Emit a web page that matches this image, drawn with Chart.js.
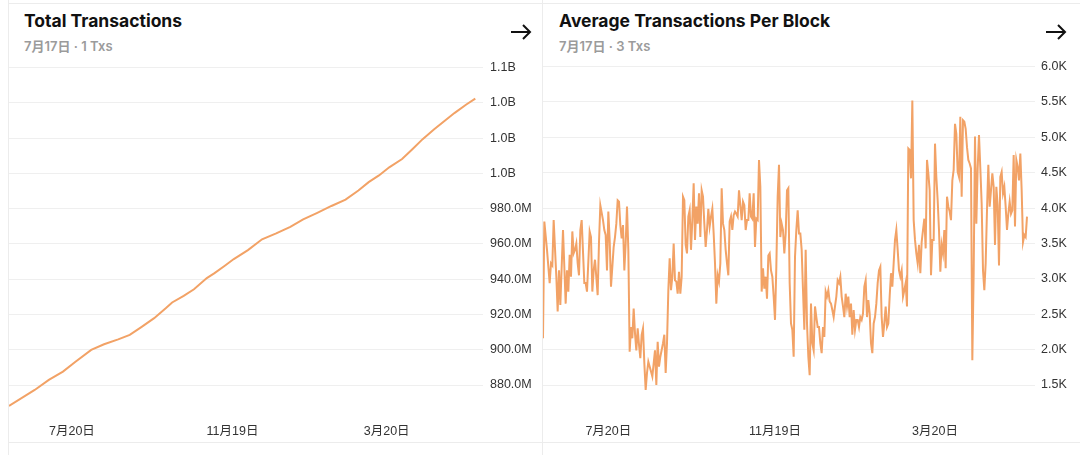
<!DOCTYPE html>
<html lang="zh">
<head>
<meta charset="UTF-8">
<title>Transactions</title>
<script src="https://cdn.jsdelivr.net/npm/chart.js"></script>
<style>
  body { margin: 0; width: 1080px; height: 455px; background: #fff; overflow: hidden; position: relative;
         font-family: Inter, 'Noto Sans CJK SC', sans-serif; }
  .vline { position: absolute; top: 0; bottom: 0; width: 1px; background: #ececec; }
  .hline { position: absolute; left: 8px; right: 0; height: 1px; background: #ececec; }
  .title { position: absolute; top: 11px; font-size: 17.5px; line-height: 20px; font-weight: 700; color: #111; white-space: nowrap; }
  .sub { position: absolute; top: 38px; font-size: 13px; line-height: 16px; font-weight: 600; color: #9b9b9b; white-space: nowrap; }
  .arrow { position: absolute; top: 23px; }
  canvas { position: absolute; top: 53px; }
</style>
</head>
<body>
  <div class="vline" style="left:8px"></div>
  <div class="vline" style="left:542px"></div>
  <div class="hline" style="top:3px"></div>
  <div class="hline" style="top:442px"></div>

  <div class="title" style="left:24px">Total Transactions</div>
  <div class="sub" style="left:24px">7月17日 · 1 Txs</div>
  <svg class="arrow" style="left:510px" width="22" height="18" viewBox="0 0 22 18">
    <path d="M1 9 H20 M13 2 L20 9 L13 16" fill="none" stroke="#111" stroke-width="2"/>
  </svg>

  <div class="title" style="left:559px">Average Transactions Per Block</div>
  <div class="sub" style="left:559px">7月17日 · 3 Txs</div>
  <svg class="arrow" style="left:1045px" width="22" height="18" viewBox="0 0 22 18">
    <path d="M1 9 H20 M13 2 L20 9 L13 16" fill="none" stroke="#111" stroke-width="2"/>
  </svg>

  <canvas id="totalChart" width="531" height="398" style="left:9px"></canvas>
  <canvas id="avgChart" width="537" height="398" style="left:543px"></canvas>

<script>
// x positions are day numbers counted from the first day shown
const tickDays = [49, 174, 294];
const tickLabels = ['7月20日', '11月19日', '3月20日'];

// total transactions, in millions
const totalDays = [0, 20, 31, 42, 52, 64, 74, 85, 94, 103, 113, 122, 127, 136, 144, 154, 160, 168, 175, 186,
  197, 208, 219, 229, 240, 251, 262, 272, 280, 288, 296, 306, 314, 322, 331, 339, 347, 356, 363];
const totalTxs = [868.1, 877.2, 882.9, 887.6, 893.3, 899.9, 903.1, 905.9, 908.4, 912.8, 917.9, 923.5, 926.8, 930.5,
  934.3, 940.6, 943.4, 947.6, 951.4, 956.5, 962.6, 966.0, 969.7, 973.9, 977.6, 981.5, 985.1, 990.3, 995.0, 998.8,
  1003.4, 1008.1, 1013.7, 1019.4, 1025.0, 1029.7, 1034.3, 1039.0, 1042.4];
const totalTicks = [880, 900, 920, 940, 960, 980, 1000, 1020, 1040, 1060];

// average transactions per block
const avgDays = [0, 1, 3, 5, 6, 7, 8, 10, 11, 12, 13, 15, 17, 18, 19, 20, 21, 22, 23, 24,
  25, 26, 27, 28, 29, 31, 32, 33, 35, 36, 37, 38, 39, 41, 42, 43, 45, 46, 47, 48,
  49, 50, 51, 53, 54, 55, 56, 57, 58, 59, 60, 61, 62, 63, 64, 65, 66, 67, 68, 69,
  70, 71, 72, 73, 74, 75, 76, 77, 78, 79, 81, 82, 84, 85, 86, 87, 88, 90, 91, 92,
  93, 94, 95, 96, 97, 98, 99, 100, 101, 102, 103, 104, 105, 106, 107, 108, 109, 110, 111, 112,
  113, 114, 115, 116, 117, 118, 119, 120, 121, 122, 123, 124, 125, 126, 127, 128, 129, 130, 131, 132,
  133, 134, 135, 136, 137, 138, 139, 140, 141, 142, 143, 144, 145, 146, 147, 148, 149, 150, 151, 152,
  153, 154, 155, 156, 157, 158, 159, 160, 161, 162, 163, 164, 165, 166, 167, 168, 169, 170, 171, 172,
  173, 174, 175, 176, 177, 178, 179, 180, 181, 182, 183, 184, 185, 186, 187, 188, 189, 190, 191, 192,
  193, 194, 195, 196, 197, 198, 199, 200, 201, 202, 203, 204, 205, 206, 207, 208, 209, 210, 211, 212,
  213, 214, 215, 216, 217, 218, 219, 220, 221, 222, 223, 224, 225, 226, 227, 228, 229, 230, 231, 232,
  233, 234, 235, 236, 237, 238, 239, 240, 241, 242, 243, 244, 245, 246, 247, 248, 249, 250, 251, 252,
  253, 254, 255, 256, 257, 258, 259, 260, 261, 262, 263, 264, 265, 266, 267, 268, 269, 270, 271, 272,
  273, 274, 275, 276, 277, 278, 279, 280, 281, 282, 283, 284, 285, 286, 287, 288, 289, 290, 291, 292,
  293, 294, 295, 296, 297, 298, 299, 300, 301, 302, 303, 304, 305, 306, 307, 308, 309, 310, 311, 312,
  313, 314, 315, 316, 317, 318, 319, 320, 321, 322, 323, 324, 325, 326, 327, 328, 329, 330, 331, 332,
  333, 334, 335, 336, 337, 338, 339, 340, 341, 342, 343, 344, 345, 346, 347, 348, 349, 350, 351, 352,
  353, 354, 355, 356, 357, 358, 359, 360, 361, 362, 363];
const avgTxs = [2160, 3810, 3410, 2940, 3220, 3190, 3830, 3030, 2540, 3120,
  2630, 3690, 2650, 3120, 2820, 3340, 3030, 3670, 3360, 3410,
  3500, 3220, 3050, 3690, 3830, 2940, 2940, 2820, 3670, 3590,
  2820, 3120, 3270, 2770, 3520, 4040, 3830, 3690, 3620, 3120,
  3950, 3550, 2890, 3450, 3590, 3780, 4110, 4090, 3760, 3570,
  3760, 3120, 3500, 4020, 3410, 1970, 2320, 2160, 2580, 2230,
  1990, 2300, 2070, 1880, 2210, 2300, 1810, 1430, 1670, 1830,
  1690, 1620, 1990, 1500, 2110, 1760, 1900, 2090, 2210, 1670,
  2090, 2840, 3290, 2840, 3030, 3500, 2980, 2960, 2790, 3100,
  2790, 3030, 4160, 4110, 3480, 3360, 3880, 3970, 3410, 3830,
  4350, 3550, 4020, 3780, 4210, 3590, 4250, 4160, 3780, 3450,
  3690, 3990, 3740, 3880, 3990, 3640, 3220, 2650, 3050, 2960,
  3220, 4280, 3780, 3690, 3410, 3220, 3050, 3810, 3880, 3690,
  3900, 3950, 3920, 3880, 4250, 4040, 3830, 4090, 4040, 3690,
  3830, 3830, 4210, 3880, 3850, 4210, 3450, 3850, 3830, 4680,
  4300, 2820, 3150, 2860, 3030, 2720, 3330, 3360, 3120, 3030,
  2750, 2420, 3170, 4160, 4610, 3590, 3780, 3690, 3360,
  3640, 4250, 4280, 2940, 2370, 2280, 1900, 3310, 3690, 3970,
  3640, 3640, 3410, 2840, 2280, 3410, 2370, 1900, 1640, 2650,
  2090, 1990, 2610, 2460, 2320, 2320, 2090, 1950, 2320, 2180,
  2820, 2750, 2840, 2680, 2650, 2560, 2460, 2610, 2750, 2980,
  2940, 3030, 2750, 2610, 2460, 2790, 2610, 2750, 2460, 2650,
  2210, 2560, 2280, 2420, 2420, 2320, 2460, 2420, 2510, 2890,
  2980, 2460, 2700, 2510, 2090, 1950, 2370, 2460, 2650, 2940,
  3120, 3170, 2460, 2180, 2370, 2610, 2320, 2370, 2750, 3080,
  2890, 3220, 3550, 3690, 3410, 3120, 3030, 3120, 2750, 2840,
  2940, 2610, 4840, 4820, 4420, 5520, 3830, 3550, 3360, 3220,
  3480, 3080, 3520, 3690, 3850, 3430, 4680, 4490, 4250, 3050,
  3550, 3550, 4910, 4440, 4110, 3690, 3100, 3480, 3360, 3690,
  3150, 4160, 4020, 3950, 3830, 4390, 4540, 5190, 5050, 4510,
  4440, 5290, 4160, 5240, 5220, 5120, 4860, 4680, 4630, 4560,
  1850, 3080, 5010, 3780, 4560, 5030, 4560, 4060, 3120, 2840,
  3220, 3970, 4610, 4020, 4250, 4490, 4300, 3480, 4300, 4040,
  3190, 4440, 4510, 4210, 4300, 4020, 3690, 3920, 4090, 3920,
  3970, 4750, 3740, 4680, 4580, 4390, 4770, 4250, 3520, 3620,
  3590, 3880];
const avgTicks = [1500, 2000, 2500, 3000, 3500, 4000, 4500, 5000, 5500, 6000];

const LINE_COLOR = '#F2A266';
const TICK_FONT = { family: "'Liberation Sans', 'Noto Sans CJK SC', sans-serif", size: 12.5 };

function makeChart(id, days, values, yMin, yMax, yTicks, fmt, axisWidth, labelPad) {
  return new Chart(document.getElementById(id), {
    type: 'line',
    data: {
      datasets: [{
        data: days.map((d, i) => ({ x: d, y: values[i] })),
        borderColor: LINE_COLOR,
        borderWidth: 2,
        pointRadius: 0,
        tension: 0,
        fill: false
      }]
    },
    options: {
      responsive: false,
      animation: false,
      layout: { padding: { top: 10, bottom: 0, left: 0, right: 0 } },
      plugins: { legend: { display: false }, tooltip: { enabled: false } },
      scales: {
        x: {
          type: 'linear', min: 0, max: 369,
          grid: { display: false, drawTicks: false },
          border: { display: false },
          afterBuildTicks: s => { s.ticks = tickDays.map(v => ({ value: v })); },
          ticks: {
            autoSkip: false, maxRotation: 0, padding: 12, color: '#333', font: TICK_FONT,
            callback: (v, i) => tickLabels[i]
          }
        },
        y: {
          position: 'right', min: yMin, max: yMax,
          grid: { color: '#efefef', drawTicks: false },
          border: { display: false },
          afterBuildTicks: s => { s.ticks = yTicks.map(v => ({ value: v })); },
          afterFit: s => { s.width = axisWidth; },
          ticks: { padding: labelPad, color: '#333', font: TICK_FONT, callback: fmt }
        }
      }
    }
  });
}

makeChart('totalChart', totalDays, totalTxs, 864.7, 1060, totalTicks,
  v => v >= 1000 ? (v / 1000).toFixed(1) + 'B' : v.toFixed(1) + 'M', 57, 7);
makeChart('avgChart', avgDays, avgTxs, 1119, 6000, avgTicks,
  v => (v / 1000).toFixed(1) + 'K', 45, 6);
</script>
</body>
</html>
